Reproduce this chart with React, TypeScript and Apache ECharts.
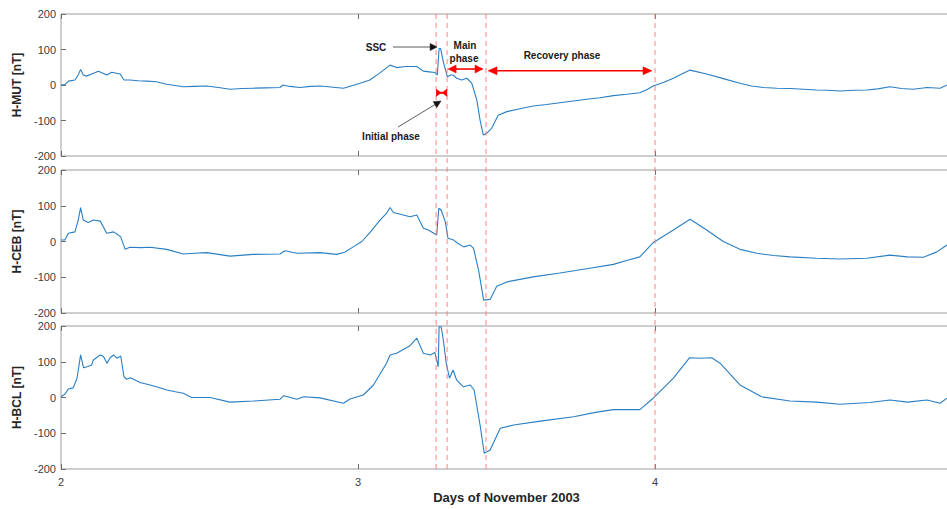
import React, { useEffect, useRef } from 'react';
import * as echarts from 'echarts';

const stationNames = ['H-MUT [nT]', 'H-CEB [nT]', 'H-BCL [nT]'];
const xAxisTitle = 'Days of November 2003';
const dayMin = 2;
const dayMax = 5;
const yMin = -200;
const yMax = 200;
const phaseDays = [3.263, 3.3, 3.431, 4.0];

const mutT = [2.0, 2.013, 2.025, 2.047, 2.058, 2.066, 2.075, 2.086, 2.105, 2.126, 2.154, 2.171, 2.199, 2.212, 2.232, 2.26, 2.289, 2.322, 2.356, 2.412, 2.45, 2.491, 2.53, 2.569, 2.61, 2.647, 2.69, 2.737, 2.748, 2.77, 2.805, 2.84, 2.872, 2.9, 2.951, 3.007, 3.04, 3.075, 3.108, 3.13, 3.16, 3.198, 3.22, 3.24, 3.259, 3.267, 3.273, 3.278, 3.287, 3.301, 3.312, 3.321, 3.332, 3.349, 3.366, 3.383, 3.4, 3.411, 3.422, 3.433, 3.45, 3.472, 3.501, 3.545, 3.59, 3.635, 3.68, 3.725, 3.77, 3.815, 3.86, 3.905, 3.949, 3.975, 3.994, 4.03, 4.062, 4.09, 4.118, 4.174, 4.23, 4.286, 4.325, 4.365, 4.41, 4.455, 4.5, 4.544, 4.58, 4.623, 4.67, 4.713, 4.75, 4.791, 4.83, 4.869, 4.916, 4.96, 4.983];
const mutV = [0, 1, 11, 14, 28, 44, 28, 25, 32, 39, 28, 36, 31, 14, 14, 12, 11, 9, 2, -5, -4, -3, -7, -12, -10, -9, -8, -7, 0, -4, -7, -4, -3, -5, -9, 5, 14, 35, 56, 49, 52, 52, 39, 37, 35, 28, 103, 103, 66, 23, 28, 28, 19, 14, 19, 5, -42, -99, -141, -136, -122, -85, -75, -67, -59, -55, -50, -45, -40, -36, -30, -26, -22, -12, -3, 8, 19, 31, 42, 31, 18, 5, -3, -7, -9, -10, -12, -14, -15, -17, -15, -14, -11, -5, -10, -12, -7, -9, 0];

const cebT = [2.0, 2.013, 2.025, 2.047, 2.058, 2.066, 2.075, 2.092, 2.109, 2.132, 2.154, 2.177, 2.193, 2.201, 2.216, 2.232, 2.27, 2.3, 2.356, 2.412, 2.45, 2.491, 2.53, 2.569, 2.647, 2.737, 2.754, 2.794, 2.872, 2.928, 2.955, 2.984, 3.013, 3.04, 3.074, 3.096, 3.108, 3.119, 3.175, 3.198, 3.22, 3.237, 3.265, 3.272, 3.28, 3.294, 3.303, 3.322, 3.336, 3.356, 3.378, 3.389, 3.406, 3.423, 3.445, 3.467, 3.501, 3.59, 3.68, 3.77, 3.86, 3.91, 3.949, 3.994, 4.0, 4.062, 4.118, 4.174, 4.23, 4.286, 4.343, 4.4, 4.455, 4.544, 4.623, 4.713, 4.791, 4.85, 4.904, 4.949, 4.983];
const cebV = [4, 4, 23, 27, 60, 95, 60, 53, 60, 57, 23, 27, 18, 13, -22, -16, -17, -16, -22, -35, -33, -31, -36, -41, -36, -35, -26, -33, -31, -36, -30, -15, 0, 25, 60, 79, 95, 81, 69, 74, 37, 32, 18, 93, 88, 55, 9, 4, -5, -15, -10, -19, -80, -164, -162, -125, -113, -99, -88, -76, -64, -52, -43, -3, 0, 32, 62, 32, 0, -22, -33, -39, -43, -47, -49, -47, -38, -43, -44, -29, -10];

const bclT = [2.0, 2.013, 2.025, 2.041, 2.054, 2.066, 2.076, 2.09, 2.103, 2.109, 2.132, 2.143, 2.155, 2.166, 2.177, 2.188, 2.201, 2.212, 2.221, 2.234, 2.266, 2.3, 2.33, 2.356, 2.385, 2.412, 2.44, 2.502, 2.569, 2.647, 2.737, 2.75, 2.794, 2.817, 2.872, 2.951, 2.973, 3.018, 3.052, 3.096, 3.108, 3.13, 3.175, 3.198, 3.22, 3.243, 3.259, 3.27, 3.273, 3.28, 3.288, 3.297, 3.308, 3.32, 3.332, 3.355, 3.378, 3.391, 3.411, 3.425, 3.445, 3.479, 3.524, 3.614, 3.726, 3.804, 3.86, 3.949, 3.994, 4.062, 4.116, 4.152, 4.191, 4.219, 4.286, 4.359, 4.455, 4.544, 4.623, 4.724, 4.791, 4.85, 4.916, 4.96, 4.983];
const bclV = [2, 9, 24, 27, 54, 119, 83, 87, 91, 105, 119, 115, 96, 112, 119, 110, 116, 58, 51, 55, 42, 35, 28, 21, 16, 12, 0, 0, -13, -10, -5, 5, -5, 2, -1, -16, -4, 7, 35, 96, 119, 124, 145, 166, 124, 119, 126, 86, 198, 198, 156, 96, 54, 77, 49, 30, 35, 21, -77, -156, -147, -86, -77, -66, -54, -41, -34, -34, -2, 54, 111, 110, 111, 96, 35, 2, -10, -13, -19, -14, -7, -13, -7, -16, -2];

const seriesT = [mutT, cebT, bclT];
const seriesV = [mutV, cebV, bclV];

const FONT = "'Liberation Sans', Arial, sans-serif";
const gridTops = [14, 170, 326];
const gridHeights = [142, 143, 143];

function arrowHead(tipX: number, tipY: number, fromX: number, fromY: number, len: number, hw: number, color: string) {
  const dx = tipX - fromX;
  const dy = tipY - fromY;
  const d = Math.sqrt(dx * dx + dy * dy) || 1;
  const ux = dx / d;
  const uy = dy / d;
  const bx = tipX - ux * len;
  const by = tipY - uy * len;
  return {
    type: 'polygon',
    silent: true,
    z: 100,
    shape: { points: [[tipX, tipY], [bx - uy * hw, by + ux * hw], [bx + uy * hw, by - ux * hw]] },
    style: { fill: color, stroke: color, lineWidth: 0.5 },
  };
}

function lineEl(x1: number, y1: number, x2: number, y2: number, color: string, w: number, dash?: number[]) {
  return {
    type: 'line',
    silent: true,
    z: 100,
    shape: { x1, y1, x2, y2 },
    style: { stroke: color, lineWidth: w, lineDash: dash },
  };
}

function textEl(x: number, y: number, text: string) {
  return {
    type: 'text',
    silent: true,
    z: 100,
    x,
    y,
    style: { text, fill: '#1a1a1a', font: `bold 10px ${FONT}`, textAlign: 'center', textVerticalAlign: 'middle' },
  };
}

export default function App() {
  const ref = useRef<HTMLDivElement>(null);

  useEffect(() => {
    document.body.style.margin = '0';
    if (!ref.current) return;
    const chart = echarts.init(ref.current, undefined, { renderer: 'svg' });

    const grids = gridTops.map((top, i) => ({
      left: 61,
      top,
      width: 891,
      height: gridHeights[i],
      show: true,
      borderColor: '#9c9c9c',
      borderWidth: 1,
      backgroundColor: 'transparent',
      containLabel: false,
      outerBoundsMode: 'none',
    }));

    const tickStyle = { show: true, inside: true, length: 5, lineStyle: { color: '#6e6e6e', width: 1 } };

    const xAxes: any[] = [];
    for (let i = 0; i < 3; i++) {
      xAxes.push({
        type: 'value',
        gridIndex: i,
        min: dayMin,
        max: dayMax,
        interval: 1,
        position: 'bottom',
        axisLine: { show: false, onZero: false },
        axisTick: tickStyle,
        splitLine: { show: false },
        axisLabel: { show: i === 2, showMaxLabel: false, color: '#404040', fontSize: 11, fontFamily: FONT, margin: 7 },
        name: i === 2 ? xAxisTitle : '',
        nameLocation: 'middle',
        nameGap: 22,
        nameTextStyle: { color: '#262626', fontSize: 13, fontWeight: 'bold', fontFamily: FONT },
      });
    }
    for (let i = 0; i < 3; i++) {
      xAxes.push({
        type: 'value',
        gridIndex: i,
        min: dayMin,
        max: dayMax,
        interval: 1,
        position: 'top',
        axisLine: { show: false, onZero: false },
        axisTick: tickStyle,
        splitLine: { show: false },
        axisLabel: { show: false },
      });
    }
    const yAxes: any[] = [];
    for (let i = 0; i < 3; i++) {
      yAxes.push({
        type: 'value',
        gridIndex: i,
        min: yMin,
        max: yMax,
        interval: 100,
        position: 'left',
        axisLine: { show: false, onZero: false },
        axisTick: tickStyle,
        splitLine: { show: false },
        axisLabel: { color: '#404040', fontSize: 11, fontFamily: FONT, margin: 5 },
        name: stationNames[i],
        nameLocation: 'middle',
        nameGap: 30,
        nameTextStyle: { color: '#262626', fontSize: 12, fontWeight: 'bold', fontFamily: FONT },
      });
    }
    for (let i = 0; i < 3; i++) {
      yAxes.push({
        type: 'value',
        gridIndex: i,
        min: yMin,
        max: yMax,
        interval: 100,
        position: 'right',
        axisLine: { show: false, onZero: false },
        axisTick: tickStyle,
        splitLine: { show: false },
        axisLabel: { show: false },
      });
    }

    const series = seriesT.map((ts, i) => ({
      type: 'line',
      xAxisIndex: i,
      yAxisIndex: i,
      data: ts.map((t, k) => [t, seriesV[i][k]]),
      showSymbol: false,
      symbol: 'none',
      lineStyle: { color: '#2a7fc4', width: 1.1 },
      clip: true,
      z: 5,
    }));

    chart.setOption({
      animation: false,
      backgroundColor: '#ffffff',
      grid: grids,
      xAxis: xAxes,
      yAxis: yAxes,
      series,
    });

    const px = (d: number) => chart.convertToPixel({ xAxisIndex: 0 }, d) as number;
    const py0 = (v: number) => chart.convertToPixel({ yAxisIndex: 0 }, v) as number;
    const topY = gridTops[0];
    const botY = gridTops[2] + gridHeights[2];
    const [pInit, pMain, pMainEnd, pRecEnd] = phaseDays.map(px);

    const red = '#ff0000';
    const graphics: any[] = [];
    phaseDays.forEach((d) => {
      const x = px(d);
      graphics.push(lineEl(x, topY, x, botY, 'rgba(255,110,110,0.85)', 1, [5, 4]));
    });

    // SSC arrow
    graphics.push(textEl(376, 47, 'SSC'));
    graphics.push(lineEl(393, 47, pInit - 2, 47, '#333333', 0.8));
    graphics.push(arrowHead(pInit + 1, 47, 393, 47, 7, 3.5, '#111111'));

    // Main phase
    graphics.push(textEl(465, 45, 'Main'));
    graphics.push(textEl(464, 58, 'phase'));
    const yMain = py0(45);
    graphics.push(lineEl(pMain + 4, yMain, pMainEnd - 4, yMain, red, 1.6));
    graphics.push(arrowHead(pMain + 1, yMain, pMainEnd, yMain, 8, 4, red));
    graphics.push(arrowHead(pMainEnd - 3, yMain, pMain, yMain, 8, 4, red));

    // Recovery phase
    graphics.push(textEl(562, 55, 'Recovery phase'));
    const yRec = py0(40);
    graphics.push(lineEl(pMainEnd + 6, yRec, pRecEnd - 6, yRec, red, 1.6));
    graphics.push(arrowHead(pMainEnd + 2, yRec, pRecEnd, yRec, 9, 4, red));
    graphics.push(arrowHead(pRecEnd - 3, yRec, pMainEnd, yRec, 9, 4, red));

    // Initial phase bowtie
    const yInit = py0(-22);
    const mid = (pInit + pMain) / 2;
    graphics.push({
      type: 'polygon', silent: true, z: 100,
      shape: { points: [[pInit, yInit - 4], [pInit, yInit + 4], [mid, yInit]] },
      style: { fill: red },
    });
    graphics.push({
      type: 'polygon', silent: true, z: 100,
      shape: { points: [[pMain, yInit - 4], [pMain, yInit + 4], [mid, yInit]] },
      style: { fill: red },
    });
    graphics.push(lineEl(pInit, yInit, pMain, yInit, red, 2));

    // Initial phase label and arrow
    graphics.push(textEl(391, 136, 'Initial phase'));
    graphics.push(lineEl(398, 127, 436, 104, '#333333', 0.8));
    graphics.push(arrowHead(441, 101, 398, 127, 7, 3.5, '#111111'));

    chart.setOption({ graphic: graphics });

    return () => {
      chart.dispose();
    };
  }, []);

  return <div ref={ref} style={{ position: 'absolute', left: 0, top: 0, width: 947, height: 509 }} />;
}
